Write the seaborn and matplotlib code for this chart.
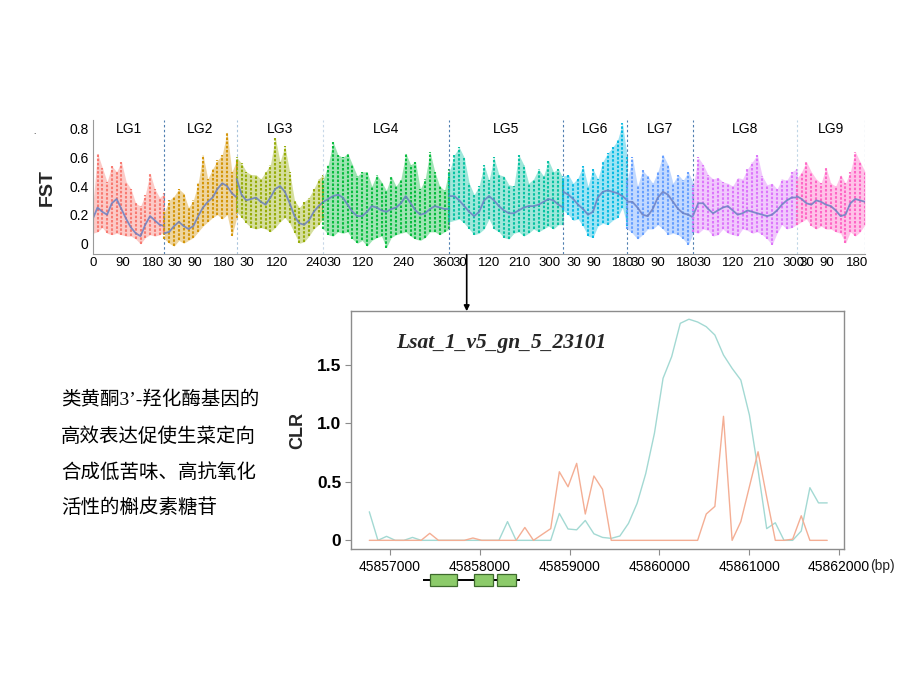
import numpy as np
import pandas as pd
import matplotlib
matplotlib.use("Agg")
import matplotlib.pyplot as plt
import matplotlib.transforms as mtransforms
from matplotlib.patches import Rectangle, FancyArrowPatch
import seaborn as sns

sns.set_theme(style="white")
plt.rcParams['font.family'] = ['Liberation Sans', 'Noto Sans CJK SC', 'DejaVu Sans']

# ---------------- top panel data (FST genome scan) ----------------
lg_names = ["LG1", "LG2", "LG3", "LG4", "LG5", "LG6", "LG7", "LG8", "LG9"]
lg_lengths = [215, 217, 260, 378, 342, 192, 198, 310, 205]   # Mb
lg_colors = ["#f8766d", "#d39200", "#93aa00", "#00ba38", "#00c19f",
             "#00b9e3", "#619cff", "#db72fb", "#ff61c3"]
lg_divider_colors = ["#4f7fb0", "#a9c4dc", "#c8d8e8", "#4f7fb0", "#4f7fb0",
                     "#4f7fb0", "#4f7fb0", "#c0d6e6", "#6f98c0"]
lg_ticks = [[0, 90, 180], [30, 90, 180], [30, 120, 240], [30, 120, 240, 360],
            [30, 120, 210, 300], [30, 90, 180], [30, 90, 180],
            [30, 120, 210, 300], [30, 90, 180]]

lg1_high = [0.26, 0.63, 0.53, 0.43, 0.54, 0.50, 0.57, 0.43, 0.38, 0.28, 0.26, 0.34, 0.49, 0.38, 0.32, 0.35]
lg1_low = [0.07, 0.08, 0.11, 0.07, 0.06, 0.07, 0.06, 0.05, 0.05, 0.03, -0.005, 0.04, 0.06, 0.05, 0.06, 0.08]
lg1_smooth = [0.17, 0.25, 0.22, 0.20, 0.28, 0.31, 0.24, 0.17, 0.11, 0.07, 0.05, 0.13, 0.19, 0.16, 0.13, 0.12]

lg2_high = [0.22, 0.30, 0.33, 0.38, 0.35, 0.25, 0.30, 0.42, 0.62, 0.45, 0.52, 0.58, 0.62, 0.78, 0.50, 0.58]
lg2_low = [0.03, 0.00, -0.02, 0.02, 0.00, 0.02, 0.04, 0.08, 0.12, 0.15, 0.18, 0.20, 0.17, 0.20, 0.05, 0.18]
lg2_smooth = [0.07, 0.08, 0.12, 0.15, 0.12, 0.10, 0.12, 0.19, 0.25, 0.29, 0.32, 0.38, 0.42, 0.40, 0.35, 0.32]

lg3_high = [0.60, 0.56, 0.50, 0.48, 0.48, 0.45, 0.50, 0.55, 0.74, 0.57, 0.68, 0.50, 0.30, 0.25, 0.29, 0.32, 0.38, 0.45, 0.48]
lg3_low = [0.22, 0.18, 0.14, 0.11, 0.10, 0.11, 0.10, 0.08, 0.11, 0.15, 0.18, 0.14, 0.07, 0.00, 0.01, 0.05, 0.10, 0.13, 0.18]
lg3_smooth = [0.45, 0.34, 0.30, 0.31, 0.32, 0.29, 0.27, 0.32, 0.38, 0.40, 0.36, 0.28, 0.19, 0.14, 0.13, 0.16, 0.22, 0.26, 0.29]

lg4_high = [0.45, 0.55, 0.71, 0.62, 0.60, 0.63, 0.55, 0.47, 0.50, 0.50, 0.40, 0.48, 0.43, 0.37, 0.47, 0.40, 0.45, 0.63, 0.55, 0.57, 0.38, 0.45, 0.64, 0.50, 0.40, 0.37, 0.52]
lg4_low = [0.10, 0.06, 0.05, 0.08, 0.07, 0.08, 0.03, 0.00, 0.02, -0.02, 0.02, 0.04, 0.05, -0.03, 0.04, 0.06, 0.07, 0.08, 0.05, 0.03, 0.02, 0.04, 0.08, 0.08, 0.06, 0.08, 0.10]
lg4_smooth = [0.29, 0.31, 0.33, 0.34, 0.32, 0.27, 0.22, 0.19, 0.19, 0.22, 0.26, 0.25, 0.23, 0.22, 0.24, 0.25, 0.28, 0.33, 0.28, 0.23, 0.20, 0.21, 0.24, 0.26, 0.25, 0.24, 0.24]

lg5_high = [0.50, 0.62, 0.67, 0.60, 0.42, 0.34, 0.40, 0.55, 0.44, 0.60, 0.48, 0.47, 0.41, 0.40, 0.62, 0.55, 0.42, 0.45, 0.52, 0.47, 0.58, 0.50, 0.52, 0.45]
lg5_low = [0.15, 0.16, 0.17, 0.14, 0.10, 0.06, 0.07, 0.10, 0.17, 0.10, 0.08, 0.04, 0.03, 0.07, 0.08, 0.05, 0.07, 0.10, 0.08, 0.10, 0.12, 0.10, 0.13, 0.13]
lg5_smooth = [0.33, 0.33, 0.30, 0.26, 0.22, 0.19, 0.22, 0.30, 0.33, 0.30, 0.26, 0.23, 0.21, 0.21, 0.23, 0.25, 0.26, 0.26, 0.27, 0.29, 0.31, 0.30, 0.27, 0.25]

lg6_high = [0.47, 0.48, 0.42, 0.46, 0.54, 0.40, 0.52, 0.45, 0.57, 0.63, 0.67, 0.72, 0.84, 0.60]
lg6_low = [0.23, 0.20, 0.16, 0.17, 0.12, 0.05, 0.04, 0.12, 0.14, 0.13, 0.16, 0.18, 0.25, 0.12]
lg6_smooth = [0.36, 0.34, 0.31, 0.27, 0.24, 0.20, 0.22, 0.32, 0.36, 0.37, 0.36, 0.35, 0.33, 0.30]

lg7_high = [0.45, 0.60, 0.40, 0.51, 0.47, 0.42, 0.50, 0.62, 0.55, 0.42, 0.48, 0.44, 0.50, 0.42]
lg7_low = [0.10, 0.07, 0.03, 0.06, 0.10, 0.10, 0.13, 0.10, 0.06, 0.07, 0.06, 0.03, -0.01, 0.07]
lg7_smooth = [0.29, 0.29, 0.25, 0.20, 0.19, 0.24, 0.32, 0.36, 0.34, 0.29, 0.24, 0.21, 0.20, 0.18]

lg8_high = [0.41, 0.60, 0.55, 0.48, 0.45, 0.46, 0.43, 0.42, 0.40, 0.46, 0.45, 0.52, 0.57, 0.62, 0.47, 0.41, 0.42, 0.38, 0.45, 0.44, 0.50, 0.52]
lg8_low = [0.08, 0.07, 0.10, 0.09, 0.05, 0.06, 0.10, 0.07, 0.06, 0.05, 0.10, 0.09, 0.07, 0.08, 0.06, 0.03, -0.01, 0.07, 0.13, 0.10, 0.11, 0.13]
lg8_smooth = [0.20, 0.28, 0.28, 0.24, 0.21, 0.23, 0.25, 0.26, 0.23, 0.20, 0.21, 0.23, 0.22, 0.21, 0.20, 0.19, 0.20, 0.23, 0.27, 0.30, 0.32, 0.32]

lg9_high = [0.45, 0.50, 0.57, 0.50, 0.45, 0.42, 0.53, 0.42, 0.40, 0.48, 0.42, 0.50, 0.64, 0.57, 0.50]
lg9_low = [0.13, 0.15, 0.17, 0.12, 0.10, 0.12, 0.10, 0.10, 0.08, 0.07, 0.00, 0.08, 0.05, 0.08, 0.13]
lg9_smooth = [0.33, 0.31, 0.28, 0.27, 0.30, 0.29, 0.27, 0.26, 0.23, 0.19, 0.20, 0.28, 0.31, 0.30, 0.29]

fst_high = [lg1_high, lg2_high, lg3_high, lg4_high, lg5_high, lg6_high, lg7_high, lg8_high, lg9_high]
fst_low = [lg1_low, lg2_low, lg3_low, lg4_low, lg5_low, lg6_low, lg7_low, lg8_low, lg9_low]
fst_smooth = [lg1_smooth, lg2_smooth, lg3_smooth, lg4_smooth, lg5_smooth, lg6_smooth, lg7_smooth, lg8_smooth, lg9_smooth]

# ---------------- bottom panel data (CLR) ----------------
clr_pos = [45856770, 45856866, 45856962, 45857059, 45857155, 45857251, 45857347, 45857443,
           45857540, 45857636, 45857732, 45857828, 45857924, 45858021, 45858117, 45858213,
           45858309, 45858405, 45858502, 45858598, 45858694, 45858790, 45858886, 45858983,
           45859079, 45859175, 45859271, 45859367, 45859464, 45859560, 45859656, 45859752,
           45859848, 45859945, 45860041, 45860137, 45860233, 45860329, 45860426, 45860522,
           45860618, 45860714, 45860810, 45860907, 45861003, 45861099, 45861195, 45861291,
           45861388, 45861484, 45861580, 45861676, 45861772, 45861869]
clr_blue = [0.244, 0, 0.034, 0, 0, 0.025, 0, 0, 0, 0, 0, 0, 0, 0, 0, 0,
            0.16, 0, 0, 0, 0, 0, 0.23, 0.097, 0.09, 0.17, 0.056, 0.025, 0.017, 0.037,
            0.145, 0.316, 0.57, 0.915, 1.385, 1.57, 1.855, 1.89, 1.866, 1.826, 1.755,
            1.584, 1.47, 1.37, 1.07, 0.6, 0.10, 0.15, 0, 0, 0.08, 0.45, 0.32, 0.32]
clr_orange = [0, 0, 0, 0, 0, 0, 0, 0.06, 0, 0, 0, 0, 0.02, 0, 0, 0,
              0, 0, 0.11, 0, 0.05, 0.10, 0.586, 0.458, 0.658, 0.225, 0.55, 0.436, 0, 0,
              0, 0, 0, 0, 0, 0, 0, 0, 0, 0.225, 0.29,
              1.06, 0, 0.16, 0.46, 0.757, 0.37, 0, 0, 0.01, 0.21, 0, 0, 0]
clr_xticks = [45857000, 45858000, 45859000, 45860000, 45861000, 45862000]
clr_yticks = [0, 0.5, 1.0, 1.5]
clr_yticklabels = ["0", "0.5", "1.0", "1.5"]
gene_span = [45857364, 45858448]
exon_starts = [45857445, 45857939, 45858195]
exon_ends = [45857742, 45858150, 45858403]

text_lines = ["类黄酮3’-羟化酶基因的", "高效表达促使生菜定向", "合成低苦味、高抗氧化", "活性的槲皮素糖苷"]

# ---------------- figure ----------------
fig = plt.figure(figsize=(9.21, 6.91), dpi=100)
fig.patch.set_facecolor("white")

# ---- top panel ----
ax1 = fig.add_axes([0.1007, 0.6324, 0.8385, 0.1939])
offsets = np.concatenate([[0], np.cumsum(lg_lengths)[:-1]])
total = float(np.sum(lg_lengths))
tick_pos, tick_lab = [], []
for i in range(len(lg_names)):
    n = len(fst_high[i])
    pos = offsets[i] + np.linspace(0, lg_lengths[i], n)
    ax1.fill_between(pos, fst_low[i], fst_high[i], color=lg_colors[i], alpha=0.38, lw=0)
    ax1.vlines(pos, fst_low[i], fst_high[i], color=lg_colors[i], lw=1.5, alpha=0.95,
               linestyles=[(0, (1.2, 0.8))])
    sns.lineplot(x=pos, y=fst_smooth[i], ax=ax1, color="#6a7fc2", lw=1.3, alpha=0.85)
    ax1.axvline(offsets[i] + lg_lengths[i], color=lg_divider_colors[i], lw=0.8,
                linestyle=(0, (2.2, 2.2)))
    ax1.text(offsets[i] + lg_lengths[i] / 2, 0.80, lg_names[i], ha="center",
             va="center", fontsize=10, color="black")
    for t in lg_ticks[i]:
        tick_pos.append(offsets[i] + t)
        tick_lab.append(str(t))

ax1.set_xlim(0, total)
ax1.set_ylim(-0.075, 0.862)
ax1.set_xticks(tick_pos)
ax1.set_xticklabels(tick_lab, fontsize=9.5)
ax1.set_yticks([0, 0.2, 0.4, 0.6, 0.8])
ax1.set_yticklabels(["0", "0.2", "0.4", "0.6", "0.8"], fontsize=10)
ax1.tick_params(axis="both", length=0, pad=3, colors="black")
ax1.tick_params(axis="x", pad=2)
for s in ["top", "right"]:
    ax1.spines[s].set_visible(False)
for s in ["left", "bottom"]:
    ax1.spines[s].set_color("#9a9a9a")
    ax1.spines[s].set_linewidth(0.8)
ax1.set_xlabel("")
ax1.set_ylabel("FST", fontsize=14, fontweight="bold", labelpad=10)

fig.text(34 / 921, 1 - 133 / 691, ".", fontsize=6, color="black", ha="center", va="center")

# ---- arrow ----
fig.add_artist(FancyArrowPatch((466.7 / 921, 1 - 252 / 691), (466.7 / 921, 1 - 314 / 691),
                               transform=fig.transFigure, arrowstyle="-|>",
                               mutation_scale=8, lw=1.2, color="black"))

# ---- bottom panel ----
ax2 = fig.add_axes([0.3811, 0.2055, 0.5353, 0.3444])
df = pd.DataFrame({
    "pos": clr_pos * 2,
    "CLR": clr_blue + clr_orange,
    "series": ["blue"] * len(clr_pos) + ["orange"] * len(clr_pos),
})
sns.lineplot(data=df, x="pos", y="CLR", hue="series",
             palette={"blue": "#a3d9d3", "orange": "#f4ae94"},
             ax=ax2, legend=False, lw=1.0)
ax2.set_xlim(45856566, 45862056)
ax2.set_ylim(-0.074, 1.96)
ax2.set_xticks(clr_xticks)
ax2.set_xticklabels([str(v) for v in clr_xticks], fontsize=10)
ax2.set_yticks(clr_yticks)
ax2.set_yticklabels(clr_yticklabels, fontsize=12.5, fontweight="bold")
ax2.tick_params(axis="both", direction="out", length=4, width=0.8, color="#8c8c8c",
                labelcolor="black")
ax2.tick_params(axis="x", pad=4)
ax2.tick_params(axis="y", pad=3)
ax2.xaxis.set_ticks_position("bottom")
ax2.yaxis.set_ticks_position("left")
for s in ax2.spines.values():
    s.set_visible(True)
    s.set_color("#8c8c8c")
    s.set_linewidth(1.0)
ax2.set_xlabel("")
ax2.set_ylabel("CLR", fontsize=13, fontweight="bold", labelpad=8)
ax2.text(0.304, 0.867, "Lsat_1_v5_gn_5_23101", transform=ax2.transAxes,
         ha="center", va="center", fontsize=15.5, fontweight="bold",
         fontstyle="italic", family=["Liberation Serif", "DejaVu Serif"])
fig.text(870 / 921, 1 - 566 / 691, "(bp)", ha="left", va="center", fontsize=10)

# gene model
trans = mtransforms.blended_transform_factory(ax2.transData, ax2.transAxes)
ax2.plot(gene_span, [-0.13, -0.13], transform=trans, color="black", lw=1.4,
         clip_on=False, solid_capstyle="butt")
for s0, s1 in zip(exon_starts, exon_ends):
    ax2.add_patch(Rectangle((s0, -0.155), s1 - s0, 0.05, transform=trans,
                            facecolor="#8ccb6a", edgecolor="#3d6a2c", lw=0.9,
                            clip_on=False, zorder=5))

# ---- side text ----
line_y = [400, 436.7, 472.7, 507.3]
for txt, yy in zip(text_lines, line_y):
    fig.text(61 / 921, 1 - yy / 691, txt, ha="left", va="center", fontsize=14,
             family=["Liberation Serif", "Noto Sans CJK SC", "DejaVu Sans"], color="black")

fig.savefig("out.png", dpi=100, facecolor="white")
